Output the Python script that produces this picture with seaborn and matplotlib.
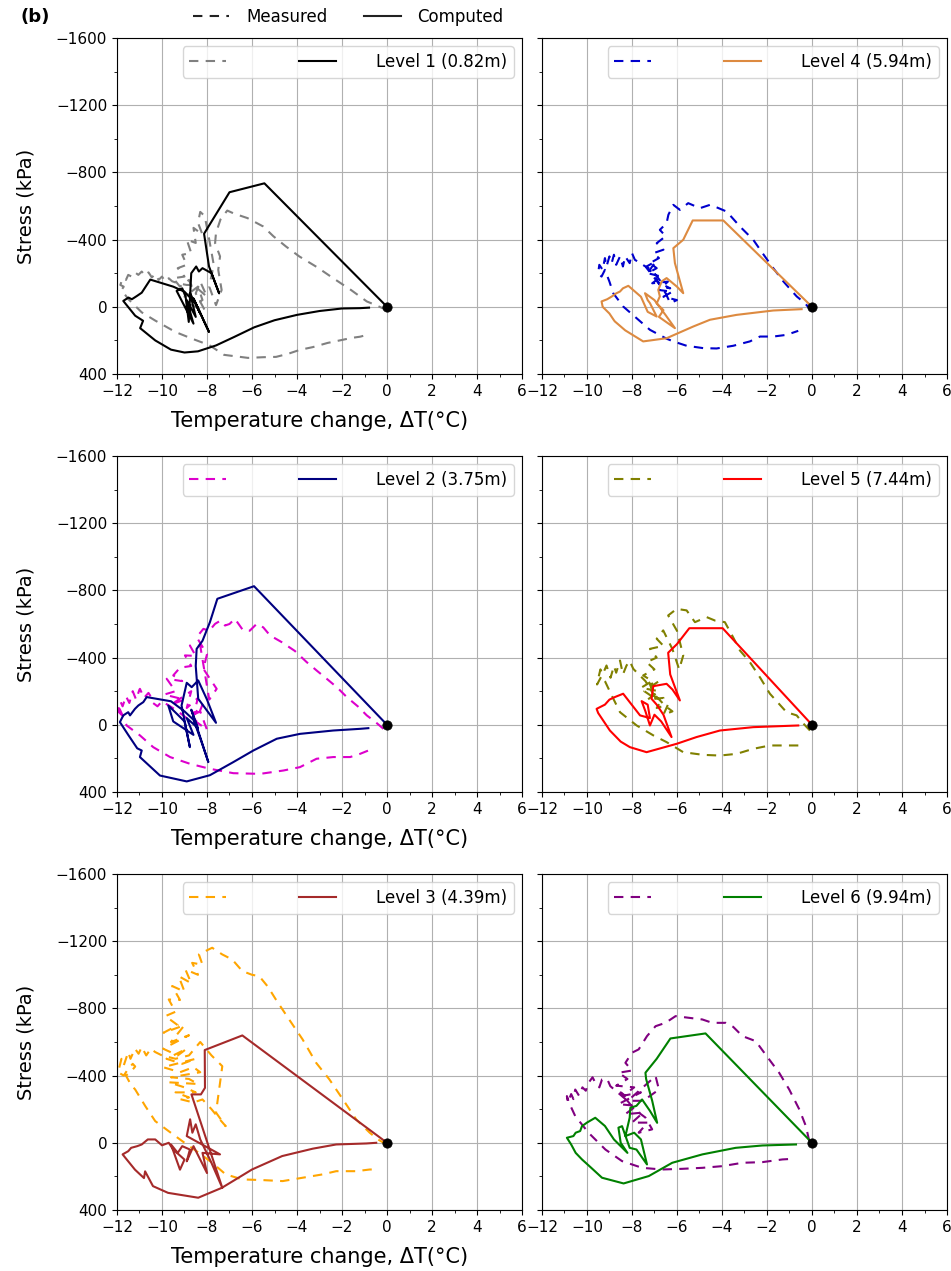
import matplotlib
matplotlib.use("Agg")
import matplotlib.pyplot as plt
import seaborn as sns
from matplotlib.lines import Line2D
from matplotlib.ticker import MultipleLocator

# ---------------- data (temperature change degC, stress kPa) ----------------
L1_MEAS = [(0.0, 20), (-0.5, -10), (-0.9, -32), (-1.6, -100), (-2.4, -171), (-3.1, -235),
           (-3.9, -300), (-4.5, -360), (-5.05, -420), (-5.5, -478), (-6.2, -528), (-6.8, -555),
           (-7.1, -573), (-7.4, -520), (-7.6, -440), (-7.64, -379), (-7.42, -300), (-7.5, -220),
           (-7.35, -100), (-7.6, -10), (-7.9, -120), (-7.7, -250), (-7.9, -400), (-8.1, -540),
           (-8.3, -565), (-8.4, -500), (-8.2, -430), (-8.6, -470), (-8.5, -380), (-8.9, -400),
           (-8.7, -320), (-9.1, -310), (-8.9, -250), (-9.3, -230), (-9.0, -180), (-9.5, -170),
           (-9.2, -120), (-8.8, -160), (-8.6, -90), (-9.0, -60), (-8.4, -120), (-8.2, -40),
           (-8.7, -10), (-8.1, 20), (-8.5, -80), (-8.3, -150), (-8.0, -60), (-8.6, -130),
           (-8.9, -130), (-9.3, -140), (-9.55, -152), (-9.7, -170), (-9.85, -150), (-10.0, -180),
           (-10.15, -160), (-10.3, -195), (-10.45, -175), (-10.6, -205), (-10.75, -185),
           (-10.9, -210), (-11.05, -190), (-11.2, -205), (-11.35, -180), (-11.5, -190),
           (-11.6, -160), (-11.75, -170), (-11.85, -130), (-11.7, -120), (-11.8, -100),
           (-11.49, -45), (-10.9, 33), (-10.3, 82), (-9.4, 150), (-8.66, 190), (-7.9, 228),
           (-7.24, 286), (-6.18, 304), (-5.5, 300), (-4.93, 298), (-4.4, 280), (-3.87, 256),
           (-3.3, 240), (-2.64, 215), (-2.1, 200), (-1.57, 185), (-1.2, 178), (-0.8, 164)]
L1_COMP = [(0.0, 0), (-5.45, -735), (-7.0, -682), (-8.13, -435), (-7.91, -240), (-7.46, -80),
           (-7.8, -200), (-8.2, -230), (-8.36, -210), (-8.48, -240), (-8.7, -200), (-8.81, 90),
           (-8.95, -60), (-9.1, -110), (-9.35, -95), (-8.6, 100), (-8.9, -40), (-8.5, 60),
           (-8.75, -80), (-8.3, 40), (-8.6, -50), (-7.91, 150), (-8.5, -20), (-9.0, -90),
           (-9.5, -120), (-10.52, -162), (-10.9, -84), (-11.12, -64), (-11.34, -45), (-11.49, -55),
           (-11.72, -35), (-11.19, 53), (-10.84, 83), (-10.97, 127), (-10.3, 200), (-9.6, 255),
           (-9.0, 272), (-8.4, 265), (-7.6, 230), (-6.8, 180), (-5.9, 122), (-5.0, 80),
           (-4.0, 48), (-3.0, 25), (-2.0, 10), (-1.2, 8), (-0.8, 5)]

L4_MEAS = [(0.0, 28), (-0.3, -20), (-0.68, -62), (-1.0, -110), (-1.27, -151), (-1.72, -230),
           (-2.2, -320), (-2.61, -399), (-3.2, -478), (-3.79, -567), (-4.2, -590), (-4.53, -607),
           (-4.98, -587), (-5.5, -617), (-5.87, -577), (-6.16, -607), (-6.38, -548), (-6.46, -498),
           (-6.76, -458), (-6.5, -420), (-6.9, -379), (-6.6, -340), (-7.05, -319), (-6.8, -290),
           (-7.2, -260), (-6.9, -230), (-7.3, -200), (-6.7, -180), (-7.1, -140), (-6.4, -150),
           (-6.8, -100), (-6.2, -90), (-6.6, -60), (-6.0, -40), (-6.3, -22), (-6.5, -80),
           (-6.9, -160), (-7.2, -220), (-6.95, -270), (-7.35, -240), (-7.0, -200), (-6.6, -130),
           (-6.3, -110), (-6.7, -120), (-7.4, -240), (-7.87, -280), (-8.0, -320), (-8.1, -260),
           (-8.3, -300), (-8.4, -240), (-8.53, -300), (-8.7, -250), (-8.8, -310), (-8.9, -260),
           (-9.0, -300), (-9.13, -240), (-9.2, -290), (-9.3, -220), (-9.45, -250), (-9.5, -200),
           (-9.35, -180), (-9.2, -220), (-9.0, -150), (-8.83, -81), (-8.39, -2), (-7.8, 67),
           (-7.2, 137), (-6.46, 190), (-6.16, 206), (-5.57, 232), (-4.83, 246), (-4.24, 248),
           (-3.5, 232), (-2.76, 206), (-2.31, 177), (-1.72, 177), (-1.13, 167), (-0.61, 143)]
L4_COMP = [(0.0, 0), (-3.94, -514), (-5.30, -514), (-5.72, -399), (-6.16, -349), (-6.09, -260),
           (-5.72, -81), (-6.0, -120), (-6.46, -171), (-6.68, -151), (-6.83, -101), (-6.76, -62),
           (-6.9, -20), (-6.6, 20), (-6.8, 60), (-6.09, 127), (-6.5, 50), (-7.0, -40),
           (-7.42, -81), (-7.3, -40), (-7.2, -22), (-6.9, 58), (-7.3, 30), (-7.6, -60),
           (-8.16, -125), (-8.4, -110), (-8.53, -91), (-8.7, -80), (-8.9, -61), (-9.1, -45),
           (-9.35, -32), (-9.3, 0), (-9.0, 40), (-8.8, 80), (-8.76, 87), (-8.3, 140),
           (-7.5, 206), (-6.46, 187), (-5.27, 117), (-4.53, 77), (-3.35, 48), (-1.72, 22),
           (-0.46, 14)]

L2_MEAS = [(-0.16, 24), (-0.5, -15), (-0.9, -56), (-1.3, -110), (-1.79, -165), (-2.2, -220),
           (-2.68, -274), (-3.1, -320), (-3.57, -373), (-4.1, -440), (-4.68, -492), (-5.2, -532),
           (-5.5, -580), (-5.79, -601), (-6.1, -560), (-6.39, -561), (-6.76, -631), (-7.0, -600),
           (-7.2, -591), (-7.4, -620), (-7.64, -601), (-7.9, -560), (-8.16, -571), (-8.46, -522),
           (-8.0, -420), (-8.16, -333), (-7.8, -260), (-7.57, -214), (-7.9, -150), (-8.3, -470),
           (-8.76, -472), (-8.5, -410), (-8.98, -413), (-8.7, -350), (-9.2, -340), (-9.5, -294),
           (-9.1, -260), (-9.79, -274), (-9.4, -200), (-9.9, -180), (-9.0, -150), (-9.6, -120),
           (-8.7, -200), (-8.9, -100), (-8.4, -160), (-8.6, -60), (-8.2, -120), (-8.5, -20),
           (-8.0, 30), (-8.3, -80), (-8.9, -40), (-9.4, -90), (-10.0, -140), (-10.2, -110),
           (-10.4, -130), (-10.53, -175), (-10.6, -190), (-10.8, -160), (-10.98, -214),
           (-11.0, -210), (-11.15, -150), (-11.3, -200), (-11.45, -130), (-11.6, -170),
           (-11.75, -110), (-11.85, -140), (-11.95, -80), (-11.8, -60), (-11.9, -100),
           (-11.7, -40), (-11.57, 4), (-10.98, 63), (-10.39, 133), (-9.64, 192), (-8.76, 232),
           (-7.87, 262), (-6.83, 288), (-5.64, 292), (-4.6, 272), (-3.87, 252), (-3.13, 202),
           (-2.39, 192), (-1.64, 192), (-1.2, 173), (-0.83, 153)]
L2_COMP = [(0.0, 0), (-5.91, -825), (-7.54, -750), (-7.87, -611), (-8.2, -500), (-8.46, -452),
           (-8.5, -350), (-8.39, -155), (-7.6, -12), (-8.0, -150), (-8.39, -264), (-8.68, -224),
           (-8.9, -250), (-9.13, -115), (-8.76, 133), (-9.0, -20), (-9.3, -60), (-9.72, -115),
           (-9.5, -20), (-8.6, 60), (-8.9, -40), (-8.4, 20), (-8.7, -90), (-7.94, 222),
           (-8.3, 80), (-8.6, -30), (-9.0, -80), (-9.6, -140), (-10.68, -165), (-10.83, -135),
           (-11.05, -115), (-11.2, -95), (-11.42, -56), (-11.5, -75), (-11.72, -56), (-11.87, -16),
           (-11.5, 60), (-11.1, 140), (-10.9, 153), (-10.98, 192), (-10.09, 302), (-8.9, 337),
           (-7.87, 300), (-6.83, 222), (-5.94, 153), (-4.9, 83), (-3.87, 54), (-2.39, 34),
           (-1.2, 24), (-0.83, 20)]

L5_MEAS = [(-0.09, 34), (-0.4, -10), (-0.68, -56), (-1.13, -75), (-1.5, -130), (-1.87, -185),
           (-2.3, -280), (-2.76, -373), (-3.2, -442), (-3.5, -520), (-3.87, -611), (-4.3, -620),
           (-4.68, -641), (-5.2, -611), (-5.57, -681), (-6.01, -690), (-6.39, -651), (-6.0, -560),
           (-5.72, -413), (-5.9, -330), (-6.2, -450), (-6.61, -562), (-6.9, -512), (-6.6, -470),
           (-7.2, -452), (-6.9, -400), (-7.35, -373), (-7.0, -330), (-7.5, -294), (-7.1, -260),
           (-7.6, -220), (-6.8, -200), (-7.3, -150), (-6.6, -160), (-6.9, -100), (-6.4, -120),
           (-6.6, -60), (-6.2, -80), (-6.5, -110), (-7.0, -180), (-7.2, -240), (-6.8, -260),
           (-7.45, -200), (-6.9, -150), (-7.4, -260), (-7.94, -333), (-8.1, -380), (-8.24, -353),
           (-8.4, -300), (-8.53, -383), (-8.7, -310), (-8.8, -350), (-8.95, -280), (-9.13, -353),
           (-9.3, -300), (-9.4, -330), (-9.5, -274), (-9.55, -240), (-9.35, -290), (-9.2, -260),
           (-8.9, -175), (-8.53, -75), (-7.79, 4), (-7.05, 63), (-6.46, 103), (-5.72, 163),
           (-4.83, 179), (-4.09, 183), (-3.35, 173), (-2.61, 143), (-1.87, 123), (-1.13, 123),
           (-0.53, 123)]
L5_COMP = [(0.0, 0), (-3.97, -575), (-5.45, -575), (-6.0, -480), (-6.39, -429), (-6.3, -300),
           (-5.87, -145), (-6.2, -210), (-6.46, -244), (-7.05, -230), (-7.13, -155), (-6.9, -120),
           (-6.6, -60), (-6.24, 73), (-6.7, -20), (-7.0, -60), (-7.2, 4), (-7.4, -80),
           (-7.57, -141), (-7.3, -120), (-7.2, -40), (-7.64, -56), (-8.39, -185), (-8.76, -165),
           (-9.0, -150), (-9.2, -120), (-9.57, -95), (-9.5, -70), (-9.2, -10), (-9.1, 10),
           (-8.98, 34), (-8.5, 100), (-8.09, 133), (-7.35, 163), (-6.01, 113), (-5.13, 73),
           (-4.09, 34), (-2.61, 14), (-0.61, 4)]

L3_MEAS = [(-0.03, 10), (-0.4, -20), (-0.77, -60), (-1.37, -139), (-1.96, -258), (-2.56, -377),
           (-3.15, -476), (-3.75, -615), (-4.35, -734), (-4.94, -853), (-5.3, -930), (-5.68, -992),
           (-6.0, -1000), (-6.43, -1022), (-6.88, -1091), (-7.32, -1121), (-7.77, -1161),
           (-8.07, -1141), (-8.36, -1121), (-8.2, -1060), (-8.66, -1071), (-8.4, -1000),
           (-8.96, -1032), (-8.7, -950), (-9.26, -992), (-9.0, -900), (-9.55, -933), (-9.2, -850),
           (-9.7, -853), (-9.4, -780), (-9.85, -754), (-9.3, -700), (-9.93, -655), (-9.0, -700),
           (-9.6, -600), (-8.8, -640), (-9.95, -560), (-9.3, -520), (-8.9, -560), (-9.8, -500),
           (-9.1, -470), (-8.5, -500), (-9.95, -450), (-9.2, -420), (-8.6, -450), (-8.3, -420),
           (-9.6, -390), (-8.8, -380), (-8.4, -350), (-9.7, -360), (-9.0, -330), (-8.5, -300),
           (-9.4, -300), (-8.8, -270), (-9.2, -260), (-8.6, -240), (-8.2, -258), (-7.8, -200),
           (-7.5, -150), (-7.17, -99), (-7.6, -180), (-7.32, -456), (-7.8, -520), (-8.3, -600),
           (-8.8, -520), (-9.4, -500), (-10.0, -520), (-10.3, -540), (-10.5, -560), (-10.7, -520),
           (-10.9, -570), (-11.04, -530), (-11.2, -560), (-11.4, -500), (-11.5, -540),
           (-11.7, -460), (-11.8, -500), (-11.95, -420), (-11.7, -400), (-11.5, -440),
           (-11.3, -470), (-11.19, -454), (-11.4, -420), (-11.6, -400), (-11.4, -350),
           (-11.19, -317), (-10.74, -218), (-10.3, -129), (-9.7, -69), (-9.1, -10), (-8.36, 60),
           (-7.77, 119), (-7.17, 188), (-6.43, 218), (-5.54, 222), (-4.64, 228), (-3.75, 208),
           (-2.86, 188), (-2.26, 169), (-1.37, 169), (-0.77, 159), (-0.48, 159)]
L3_COMP = [(0.0, 0), (-6.43, -639), (-8.1, -552), (-8.09, -327), (-8.27, -288), (-8.69, -288),
           (-7.32, 268), (-7.8, 120), (-8.3, -20), (-8.5, -110), (-8.65, -60), (-8.75, -140),
           (-8.9, -40), (-7.42, 69), (-8.2, 60), (-8.0, 180), (-8.6, 20), (-8.9, 110),
           (-8.76, 40), (-9.1, 20), (-9.3, 60), (-9.6, 10), (-9.2, 160), (-9.0, 100),
           (-9.5, 40), (-9.7, 0), (-10.0, 15), (-10.3, -20), (-10.63, -20), (-10.9, 10),
           (-11.1, 20), (-11.37, 30), (-11.5, 50), (-11.75, 69), (-11.2, 160), (-10.8, 210),
           (-10.75, 170), (-10.4, 258), (-9.73, 298), (-8.39, 327), (-7.34, 268), (-6.0, 159),
           (-4.66, 79), (-3.3, 35), (-2.26, 10), (-0.92, 4), (-0.48, 0)]

L6_MEAS = [(-0.12, -10), (-0.27, -99), (-0.56, -198), (-1.01, -317), (-1.46, -417), (-1.9, -496),
           (-2.5, -605), (-3.09, -635), (-3.5, -690), (-3.83, -714), (-4.43, -714), (-4.87, -734),
           (-5.47, -744), (-6.06, -754), (-6.51, -714), (-6.95, -694), (-7.33, -635), (-7.7, -556),
           (-8.0, -536), (-8.29, -476), (-8.0, -430), (-8.59, -417), (-8.2, -380), (-8.7, -340),
           (-7.9, -330), (-8.4, -280), (-7.6, -300), (-8.6, -230), (-7.8, -220), (-8.3, -170),
           (-7.5, -180), (-8.0, -120), (-7.3, -120), (-7.7, -60), (-7.1, -80), (-7.4, -150),
           (-7.9, -200), (-8.5, -300), (-8.1, -260), (-6.95, -397), (-6.8, -317), (-7.5, -250),
           (-8.2, -250), (-8.96, -337), (-9.1, -380), (-9.33, -377), (-9.45, -330), (-9.6, -350),
           (-9.75, -390), (-9.93, -357), (-10.05, -310), (-10.2, -330), (-10.35, -280),
           (-10.52, -317), (-10.6, -260), (-10.7, -290), (-10.85, -240), (-10.89, -278),
           (-10.8, -240), (-10.52, -159), (-9.93, -60), (-9.18, 40), (-8.44, 109), (-7.55, 149),
           (-6.66, 159), (-5.77, 155), (-4.87, 149), (-3.98, 139), (-3.09, 119), (-2.2, 115),
           (-1.31, 99), (-0.79, 95)]
L6_COMP = [(0.0, 0), (-4.73, -651), (-6.29, -621), (-6.9, -500), (-7.4, -417), (-7.37, -380),
           (-7.1, -250), (-6.88, -119), (-7.2, -190), (-7.55, -258), (-7.8, -220), (-8.07, -208),
           (-8.1, -150), (-8.29, -40), (-7.9, -60), (-7.6, -20), (-7.33, 129), (-7.8, 40),
           (-8.1, 30), (-8.44, -99), (-8.6, -90), (-8.5, 0), (-8.2, 60), (-8.8, -20),
           (-9.2, -100), (-9.63, -149), (-10.0, -120), (-10.22, -99), (-10.3, -70), (-10.5, -60),
           (-10.6, -40), (-10.89, -30), (-10.7, 10), (-10.5, 60), (-10.22, 99), (-9.8, 150),
           (-9.33, 208), (-8.37, 242), (-7.25, 198), (-6.21, 119), (-4.87, 69), (-3.39, 30),
           (-2.2, 16), (-0.71, 10)]

PANEL_LABELS = ["Level 1 (0.82m)", "Level 4 (5.94m)",
                "Level 2 (3.75m)", "Level 5 (7.44m)",
                "Level 3 (4.39m)", "Level 6 (9.94m)"]
MEAS_COLORS = ["gray", "mediumblue", "#dd00cc", "olive", "orange", "purple"]
COMP_COLORS = ["black", "#dd8a40", "navy", "red", "brown", "green"]
MEAS_SERIES = [L1_MEAS, L4_MEAS, L2_MEAS, L5_MEAS, L3_MEAS, L6_MEAS]
COMP_SERIES = [L1_COMP, L4_COMP, L2_COMP, L5_COMP, L3_COMP, L6_COMP]

X_TICKS_STEP = 2
Y_TICKS_STEP = 400

DASH = (0, (4.5, 3.5))

fig, axes = plt.subplots(3, 2, figsize=(9.51, 12.71), dpi=100)
fig.subplots_adjust(left=0.1230, right=0.9958, top=0.9701, bottom=0.0480,
                    wspace=0.049, hspace=0.244)

for i, ax in enumerate(axes.flat):
    meas = MEAS_SERIES[i]
    comp = COMP_SERIES[i]
    sns.lineplot(x=[p[0] for p in meas], y=[p[1] for p in meas], sort=False,
                 estimator=None, color=MEAS_COLORS[i], linestyle=DASH,
                 linewidth=1.5, ax=ax)
    sns.lineplot(x=[p[0] for p in comp], y=[p[1] for p in comp], sort=False,
                 estimator=None, color=COMP_COLORS[i], linewidth=1.5, ax=ax)
    sns.scatterplot(x=[0], y=[0], color="black", s=45, edgecolor="black",
                    zorder=5, ax=ax)
    ax.set_xlim(-12, 6)
    ax.set_ylim(400, -1600)
    ax.xaxis.set_major_locator(MultipleLocator(X_TICKS_STEP))
    ax.xaxis.set_minor_locator(MultipleLocator(1))
    ax.yaxis.set_major_locator(MultipleLocator(Y_TICKS_STEP))
    ax.yaxis.set_minor_locator(MultipleLocator(200))
    ax.grid(True, which="major", color="#b0b0b0", linewidth=0.8)
    ax.set_axisbelow(True)
    ax.tick_params(labelsize=11)
    col = i % 2
    if col == 0:
        ax.set_ylabel("Stress (kPa)", fontsize=14, labelpad=15)
        ax.set_xlabel("Temperature change, \u0394T(\u00b0C)", fontsize=15, labelpad=9)
    else:
        ax.set_ylabel("")
        ax.set_xlabel("")
        ax.tick_params(labelleft=False)
    h_meas = Line2D([], [], color=MEAS_COLORS[i], linestyle=DASH, linewidth=1.5)
    h_comp = Line2D([], [], color=COMP_COLORS[i], linewidth=1.5)
    ax.legend([h_meas, h_comp], ["", PANEL_LABELS[i]], ncol=2, loc="upper right",
              fontsize=12, handlelength=2.2, handletextpad=2.4, columnspacing=2.0)

top_handles = [Line2D([], [], color="#222222", linestyle=DASH, linewidth=1.5),
               Line2D([], [], color="#222222", linewidth=1.5)]
fig.legend(top_handles, ["Measured", "Computed"], ncol=2, frameon=False,
           loc="center", bbox_to_anchor=(348 / 951, 1 - 17 / 1271), fontsize=12,
           handlelength=2.2, handletextpad=1.0, columnspacing=2.2)
fig.text(21 / 951, 1 - 17 / 1271, "(b)", fontsize=13, fontweight="bold", va="center")

fig.savefig("out.png", dpi=100)
